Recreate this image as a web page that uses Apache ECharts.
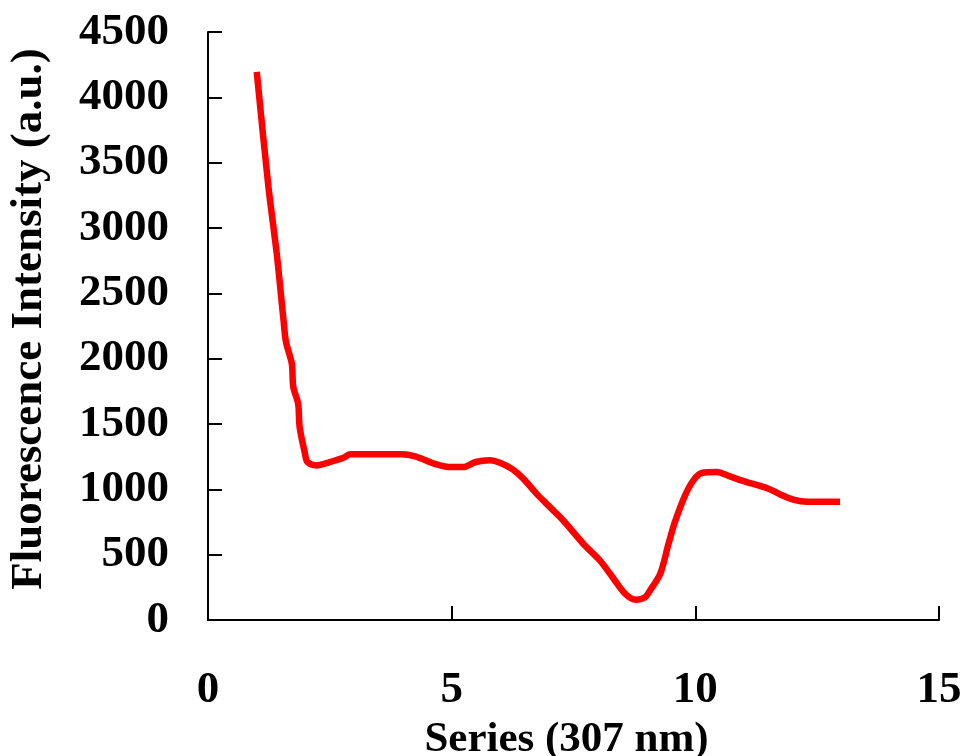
<!DOCTYPE html>
<html>
<head>
<meta charset="utf-8">
<script src="https://cdn.jsdelivr.net/npm/echarts@6/dist/echarts.min.js"></script>
<style>
html,body{margin:0;padding:0;background:#fff;}
#chart{width:964px;height:756px;}
</style>
</head>
<body>
<div id="chart"></div>
<script>
const xValues = [1.0,1.24,1.41,1.55,1.60,1.72,1.75,1.85,1.88,1.99,2.04,2.23,2.50,2.78,2.92,3.97,4.25,4.69,5.0,5.24,5.49,5.79,5.99,6.23,6.47,6.74,6.98,7.29,7.70,8.04,8.25,8.56,8.78,8.97,9.07,9.28,9.45,9.58,9.79,9.96,10.13,10.44,10.71,10.99,11.50,11.74,12.01,12.29,12.97];
const yValues = [4195,3315,2805,2294,2128,1962,1783,1656,1477,1273,1209,1183,1209,1242,1268,1268,1252,1191,1170,1170,1209,1222,1204,1158,1082,967,877,762,584,456,354,201,155,175,226,354,584,749,954,1069,1125,1132,1099,1063,1005,961,921,905,905];
const xTicks = [0,5,10,15];
const yTicks = [0,500,1000,1500,2000,2500,3000,3500,4000,4500];
const xTitle = 'Series (307 nm)';
const yTitle = 'Fluorescence Intensity (a.u.)';

const seriesData = xValues.map((x,i)=>[x,yValues[i]]);
const font = 'Liberation Serif, Times New Roman, serif';
const chart = echarts.init(document.getElementById('chart'));
chart.setOption({
  animation:false,
  backgroundColor:'#fff',
  grid:{left:208,right:25,top:32,bottom:136,containLabel:false,outerBoundsMode:'none'},
  xAxis:{
    type:'value',min:xTicks[0],max:xTicks[xTicks.length-1],interval:5,
    name:xTitle,nameLocation:'middle',nameGap:86,
    nameTextStyle:{fontFamily:font,fontWeight:'bold',fontSize:43,color:'#000',padding:[0,14,0,0]},
    axisLine:{show:true,lineStyle:{color:'#000',width:2}},
    axisTick:{show:true,inside:true,length:14,lineStyle:{color:'#000',width:2}},
    axisLabel:{fontFamily:font,fontWeight:'bold',fontSize:45,color:'#000',margin:48,formatter:v=>String(v)},
    splitLine:{show:false}
  },
  yAxis:{
    type:'value',min:yTicks[0],max:yTicks[yTicks.length-1],interval:500,
    name:yTitle,nameLocation:'middle',nameGap:156,nameRotate:90,
    nameTextStyle:{fontFamily:font,fontWeight:'bold',fontSize:45,color:'#000',padding:[0,0,0,14]},
    axisLine:{show:true,lineStyle:{color:'#000',width:2}},
    axisTick:{show:true,inside:true,length:14,lineStyle:{color:'#000',width:2}},
    axisLabel:{fontFamily:font,fontWeight:'bold',fontSize:45,color:'#000',margin:39,formatter:v=>String(v)},
    splitLine:{show:false}
  },
  series:[{
    type:'line',data:seriesData,showSymbol:false,smooth:0.3,
    lineStyle:{color:'#ff0000',width:6.5},itemStyle:{color:'#ff0000'}
  }]
});
</script>
</body>
</html>
